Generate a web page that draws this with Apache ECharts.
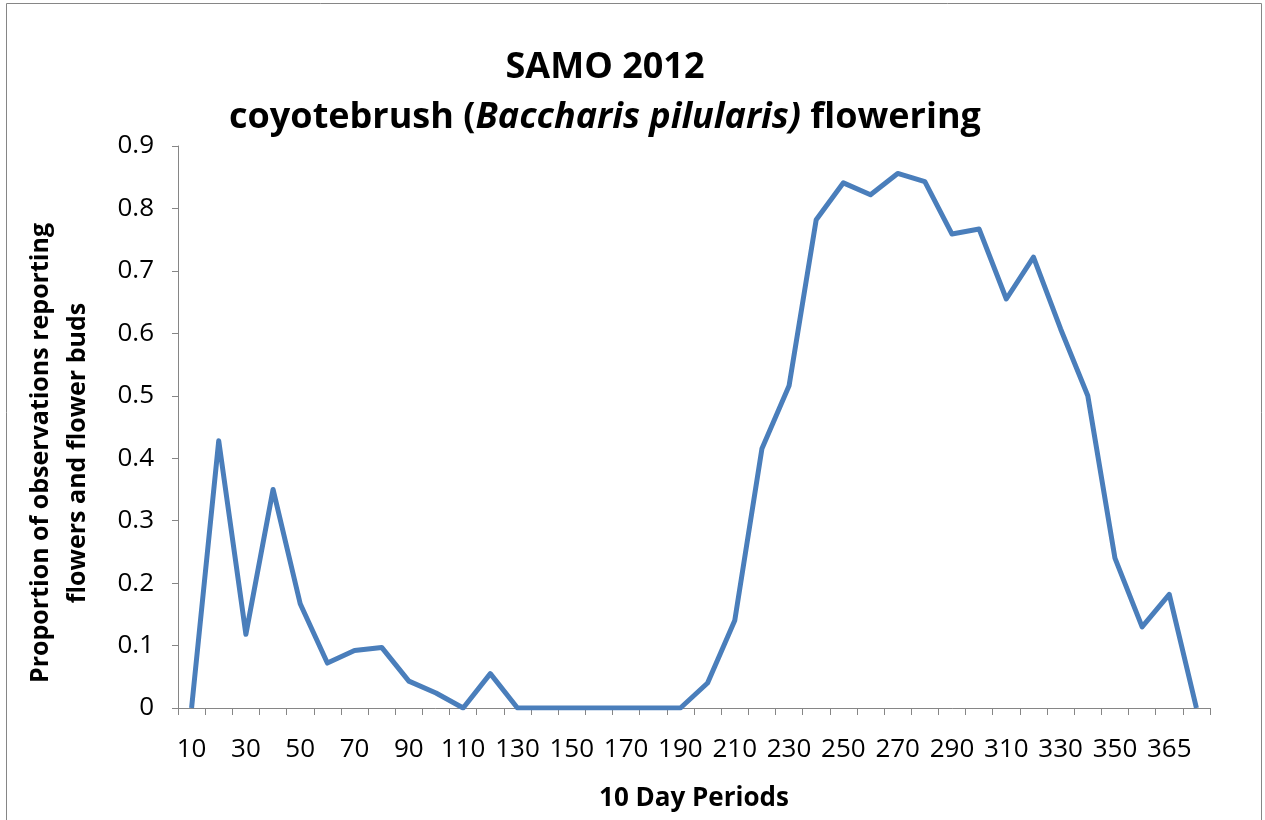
<!DOCTYPE html>
<html>
<head>
<meta charset="utf-8">
<title>SAMO 2012 coyotebrush flowering</title>
<script src="https://cdn.jsdelivr.net/npm/echarts@6/dist/echarts.min.js"></script>
<style>
  html, body {
    margin: 0;
    padding: 0;
    background: #ffffff;
  }
  #chart {
    width: 1265px;
    height: 820px;
  }
</style>
</head>
<body>
<div id="chart"></div>
<script>
  // 10 day periods (the last row has no label in the sheet)
  const periods = [
    '10', '20', '30', '40', '50', '60', '70', '80', '90', '100',
    '110', '120', '130', '140', '150', '160', '170', '180', '190', '200',
    '210', '220', '230', '240', '250', '260', '270', '280', '290', '300',
    '310', '320', '330', '340', '350', '360', '365', ''
  ]

  // proportion of observations reporting flowers and flower buds
  const proportion = [
    0, 0.428, 0.118, 0.35, 0.167, 0.072, 0.092, 0.097, 0.043, 0.024,
    0, 0.055, 0, 0, 0, 0, 0, 0, 0, 0.04,
    0.14, 0.415, 0.516, 0.782, 0.841, 0.822, 0.856, 0.843, 0.759, 0.767,
    0.655, 0.722, 0.607, 0.5, 0.24, 0.13, 0.182, 0
  ]

  const yTicks = { min: 0, max: 0.9, step: 0.1 }

  const font = '"Open Sans", "Noto Sans", sans-serif'
  const axisGray = '#868686'

  const chart = echarts.init(document.getElementById('chart'))
  chart.setOption({
    animation: false,
    textStyle: {
      fontFamily: font
    },
    title: {
      left: 600,
      top: 38,
      textAlign: 'center',
      text: '{b|SAMO 2012}\n{b|coyotebrush (}{bi|Baccharis pilularis)}{b| flowering}',
      textStyle: {
        rich: {
          b: {
            fontFamily: font,
            fontSize: 36,
            fontWeight: 'bold',
            color: '#000000',
            lineHeight: 50
          },
          bi: {
            fontFamily: font,
            fontSize: 36,
            fontWeight: 'bold',
            fontStyle: 'italic',
            color: '#000000',
            lineHeight: 50
          }
        }
      }
    },
    graphic: [
      {
        type: 'rect',
        shape: { x: 6.5, y: 3.5, width: 1255, height: 830 },
        style: { fill: 'none', stroke: axisGray, lineWidth: 1 },
        silent: true
      }
    ],
    grid: {
      left: 178,
      right: 55,
      top: 146,
      bottom: 112
    },
    xAxis: {
      type: 'category',
      data: periods,
      boundaryGap: true,
      name: '10 Day Periods',
      nameLocation: 'middle',
      nameGap: 78,
      nameTextStyle: {
        fontFamily: font,
        fontSize: 26,
        fontWeight: 'bold',
        color: '#000000'
      },
      axisLine: {
        lineStyle: { color: axisGray, width: 1 }
      },
      axisTick: {
        show: true,
        interval: 0,
        length: 7,
        lineStyle: { color: axisGray }
      },
      axisLabel: {
        interval: 1,
        margin: 29,
        fontSize: 26,
        color: '#000000'
      },
      splitLine: { show: false }
    },
    yAxis: {
      type: 'value',
      min: yTicks.min,
      max: yTicks.max,
      interval: yTicks.step,
      name: 'Proportion of observations reporting\nflowers and flower buds',
      nameLocation: 'middle',
      nameGap: 82,
      nameTextStyle: {
        fontFamily: font,
        fontSize: 25,
        fontWeight: 'bold',
        color: '#000000',
        lineHeight: 37,
        padding: [0, 52, 0, 0]
      },
      axisLine: {
        show: true,
        lineStyle: { color: axisGray, width: 1 }
      },
      axisTick: {
        show: true,
        length: 6,
        lineStyle: { color: axisGray }
      },
      axisLabel: {
        margin: 24,
        fontSize: 26,
        color: '#000000',
        formatter: function (v) {
          return v === 0 ? '0' : v.toFixed(1)
        }
      },
      splitLine: { show: false }
    },
    series: [
      {
        type: 'line',
        data: proportion,
        showSymbol: false,
        lineStyle: {
          color: '#4a7ebb',
          width: 5,
          join: 'round'
        },
        itemStyle: { color: '#4a7ebb' }
      }
    ]
  })
</script>
</body>
</html>
